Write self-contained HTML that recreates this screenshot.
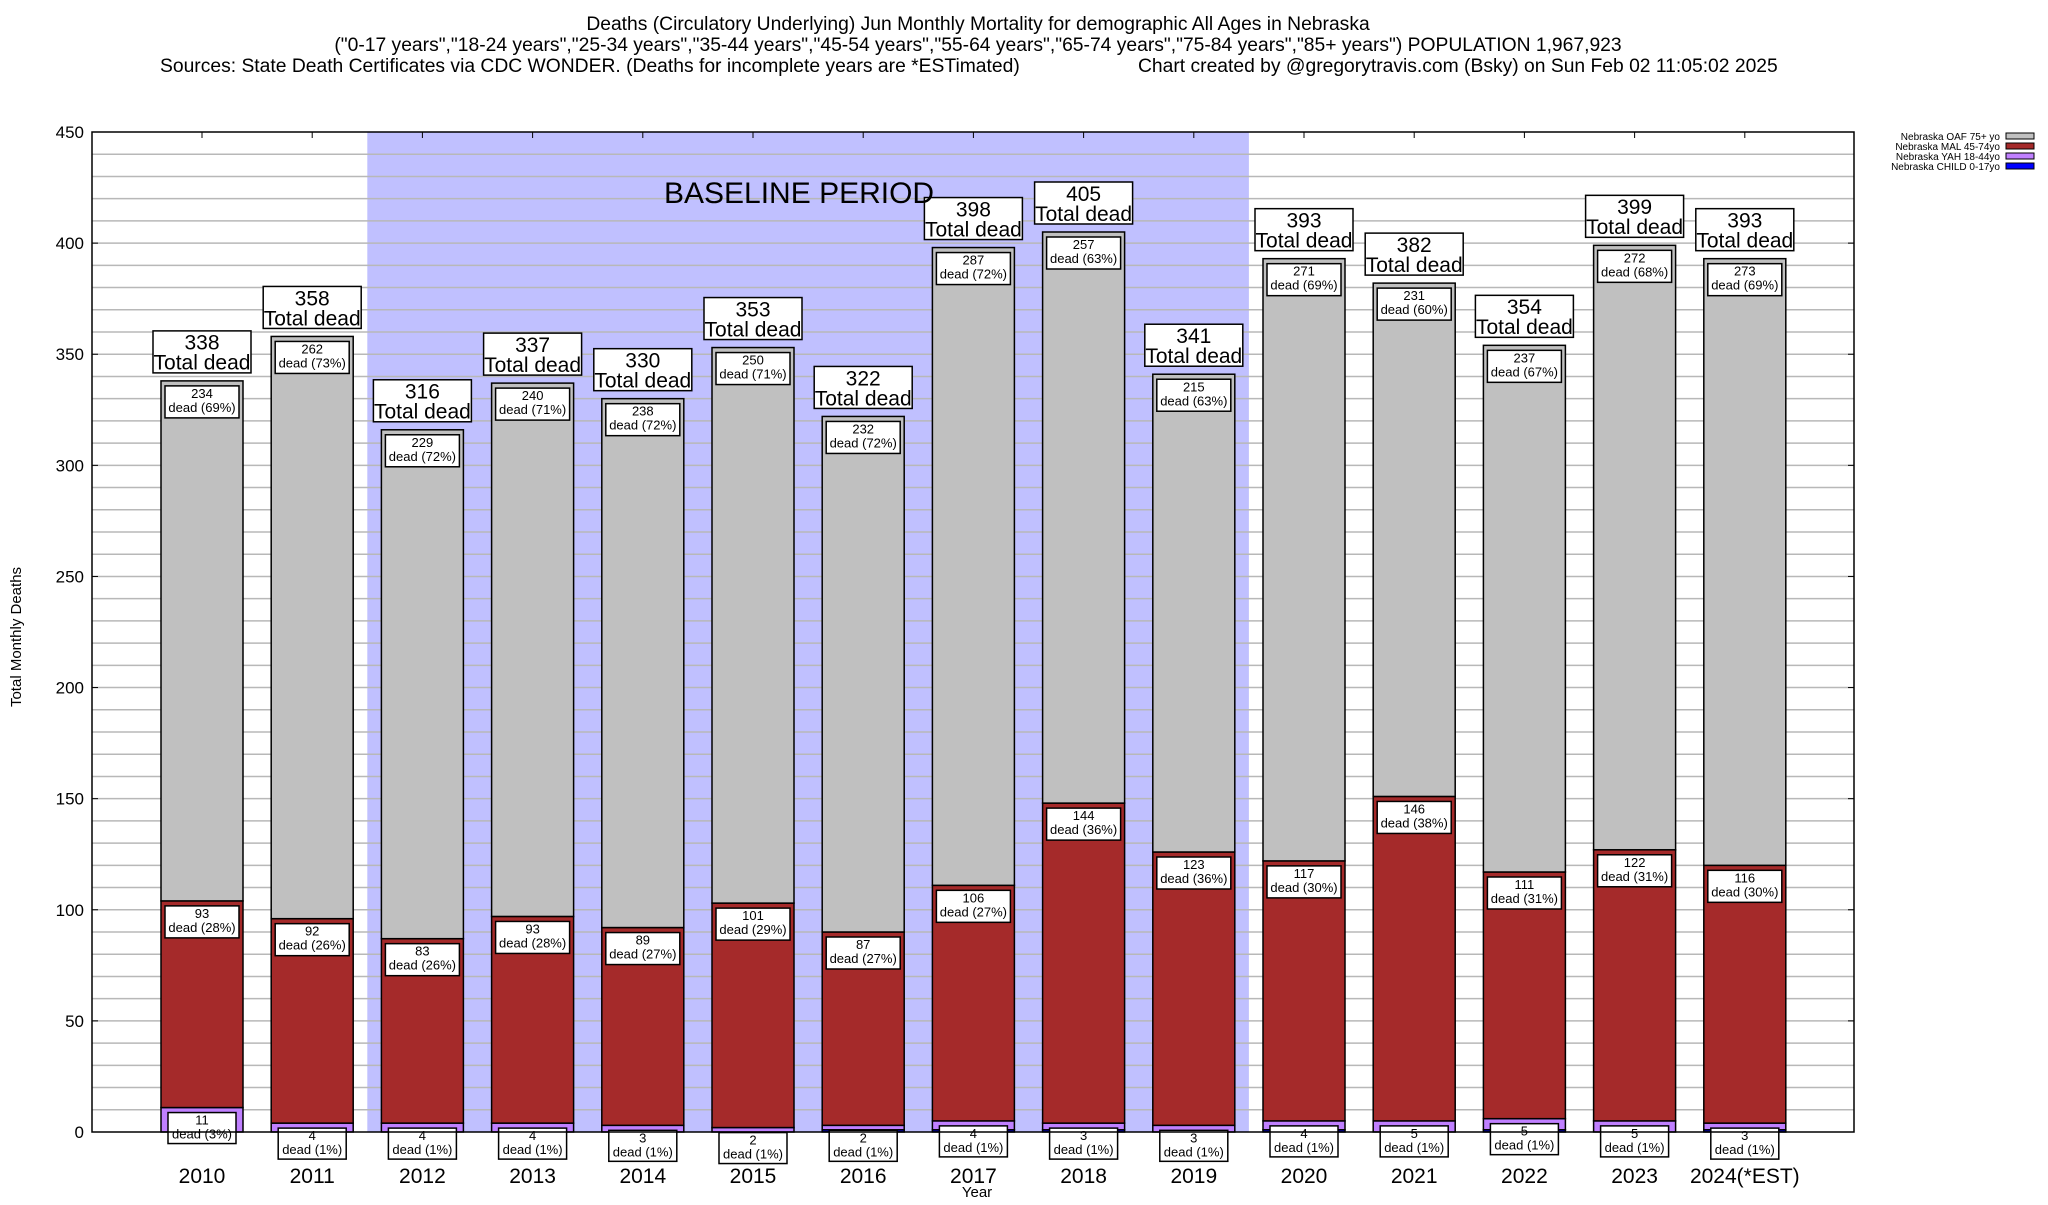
<!DOCTYPE html>
<html><head><meta charset="utf-8"><style>
body{margin:0;background:#fff;font-family:"Liberation Sans",sans-serif}
svg text{font-family:"Liberation Sans",sans-serif}
</style></head><body>
<svg id="chart" width="2048" height="1200" xmlns="http://www.w3.org/2000/svg">
<g font-size="19.3" text-anchor="middle">
<text x="978" y="30">Deaths (Circulatory Underlying) Jun Monthly Mortality for demographic All Ages in Nebraska</text>
<text x="978" y="51">("0-17 years","18-24 years","25-34 years","35-44 years","45-54 years","55-64 years","65-74 years","75-84 years","85+ years") POPULATION 1,967,923</text>
<text x="160" y="72" text-anchor="start">Sources: State Death Certificates via CDC WONDER. (Deaths for incomplete years are *ESTimated)</text>
<text x="1138" y="72" text-anchor="start">Chart created by @gregorytravis.com (Bsky) on Sun Feb 02 11:05:02 2025</text>
</g>
<text font-size="15" transform="translate(21,637) rotate(-90)" text-anchor="middle">Total Monthly Deaths</text>
<text font-size="15" x="977" y="1197" text-anchor="middle">Year</text>
<g id="plot"></g>
<g font-size="10" text-anchor="end">
<text x="2000" y="140">Nebraska OAF 75+ yo</text><rect x="2006" y="133" width="28" height="6" fill="#c0c0c0" stroke="#000"/>
<text x="2000" y="150">Nebraska MAL 45-74yo</text><rect x="2006" y="143" width="28" height="6" fill="#a52a2a" stroke="#000"/>
<text x="2000" y="160">Nebraska YAH 18-44yo</text><rect x="2006" y="153" width="28" height="6" fill="#c080ff" stroke="#000"/>
<text x="2000" y="170">Nebraska CHILD 0-17yo</text><rect x="2006" y="163" width="28" height="6" fill="#0000ff" stroke="#000"/>
</g>
</svg>
<script>
const years=["2010","2011","2012","2013","2014","2015","2016","2017","2018","2019","2020","2021","2022","2023","2024(*EST)"];
const totals=[338,358,316,337,330,353,322,398,405,341,393,382,354,399,393];
const oaf=[234,262,229,240,238,250,232,287,257,215,271,231,237,272,273];
const mal=[93,92,83,93,89,101,87,106,144,123,117,146,111,122,116];
const yah=[11,4,4,4,3,2,2,4,3,3,4,5,5,5,3];
const child=[0,0,0,0,0,0,1,1,1,0,1,0,1,0,1];
const oafPct=[69,73,72,71,72,71,72,72,63,63,69,60,67,68,69];
const malPct=[28,26,26,28,27,29,27,27,36,36,30,38,31,31,30];
const yahPct=[3,1,1,1,1,1,1,1,1,1,1,1,1,1,1];
const yTicks=[0,50,100,150,200,250,300,350,400,450];
const baseline=["2012","2019"];
const L=92,R=1854,T=132,B=1132,YMAX=450;
const NS="http://www.w3.org/2000/svg";
const plot=document.getElementById('plot');
function y(v){return B-(v/YMAX)*(B-T);}
const step=110.2, x0=202;
function xc(i){return x0+i*step;}
const bw=82;
function mk(tag,attrs,parent){const e=document.createElementNS(NS,tag);for(const k in attrs)e.setAttribute(k,attrs[k]);(parent||plot).appendChild(e);return e;}
let bg=mk('rect',{x:L,y:T,width:R-L,height:B-T,fill:'#fff'});


const i0=years.indexOf(baseline[0]),i1=years.indexOf(baseline[1]);
let sh=mk('rect',{x:xc(i0)-step/2,y:T,width:(i1-i0+1)*step,height:B-T,fill:'#c0c0ff'});


for(let v=10;v<YMAX;v+=10){let g=mk('line',{x1:L,x2:R,y1:y(v),y2:y(v),stroke:'#b8b8b8','stroke-width':1.5});

}
yTicks.forEach(v=>{let t=mk('text',{x:84,y:y(v)+6,'font-size':17,'text-anchor':'end'});t.textContent=v;


mk('line',{x1:L,x2:L+6,y1:y(v),y2:y(v),stroke:'#000'});mk('line',{x1:R,x2:R-6,y1:y(v),y2:y(v),stroke:'#000'});});
function box(cx,top,w,h,l1,l2,fs,lh,name){
 const g=mk('g',{});
 
 
 mk('rect',{x:cx-w/2,y:top,width:w,height:h,fill:'#fff',stroke:'#000','stroke-width':1.5},g);
 let a=mk('text',{x:cx,y:top+fs*0.85+1,'font-size':fs,'text-anchor':'middle'},g);a.textContent=l1;
 let b=mk('text',{x:cx,y:top+fs*0.85+1+lh,'font-size':fs,'text-anchor':'middle'},g);b.textContent=l2;
}
years.forEach((yr,i)=>{
 const cx=xc(i),x=cx-bw/2;
 const segs=[[child[i],'#0000ff','bar-child'],[yah[i],'#c080ff','bar-yah'],[mal[i],'#a52a2a','bar-mal'],[oaf[i],'#c0c0c0','bar-oaf']];
 let acc=0;
 segs.forEach(s=>{ if(s[0]<=0)return;
  const r=mk('rect',{x:x,y:y(acc+s[0]),width:bw,height:y(acc)-y(acc+s[0]),fill:s[1],stroke:'#000','stroke-width':1.5});
  
  
  acc+=s[0];});
 const top=y(totals[i]);
 box(cx,top-50,98,42,totals[i],'Total dead',21,20,'total-label-'+yr);
 const oafTop=y(child[i]+yah[i]+mal[i]+oaf[i]);
 box(cx,oafTop+5,74,32,oaf[i],'dead ('+oafPct[i]+'%)',13,14,'oaf-label-'+yr);
 const malTop=y(child[i]+yah[i]+mal[i]);
 box(cx,malTop+5,74,32,mal[i],'dead ('+malPct[i]+'%)',13,14,'mal-label-'+yr);
 const yahTop=y(child[i]+yah[i]);
 box(cx,yahTop+5,68,31,yah[i],'dead ('+yahPct[i]+'%)',13,14,'yah-label-'+yr);
 let xl=mk('text',{x:cx,y:1183,'font-size':21,'text-anchor':'middle'});xl.textContent=yr;
 
 
 mk('line',{x1:cx,x2:cx,y1:T,y2:T+6,stroke:'#000'});
});
let bt=mk('text',{x:664,y:203,'font-size':30,'text-anchor':'start'});bt.textContent='BASELINE PERIOD';


let fr=mk('rect',{x:L,y:T,width:R-L,height:B-T,fill:'none',stroke:'#000','stroke-width':1.5});


</script>
</body></html>
